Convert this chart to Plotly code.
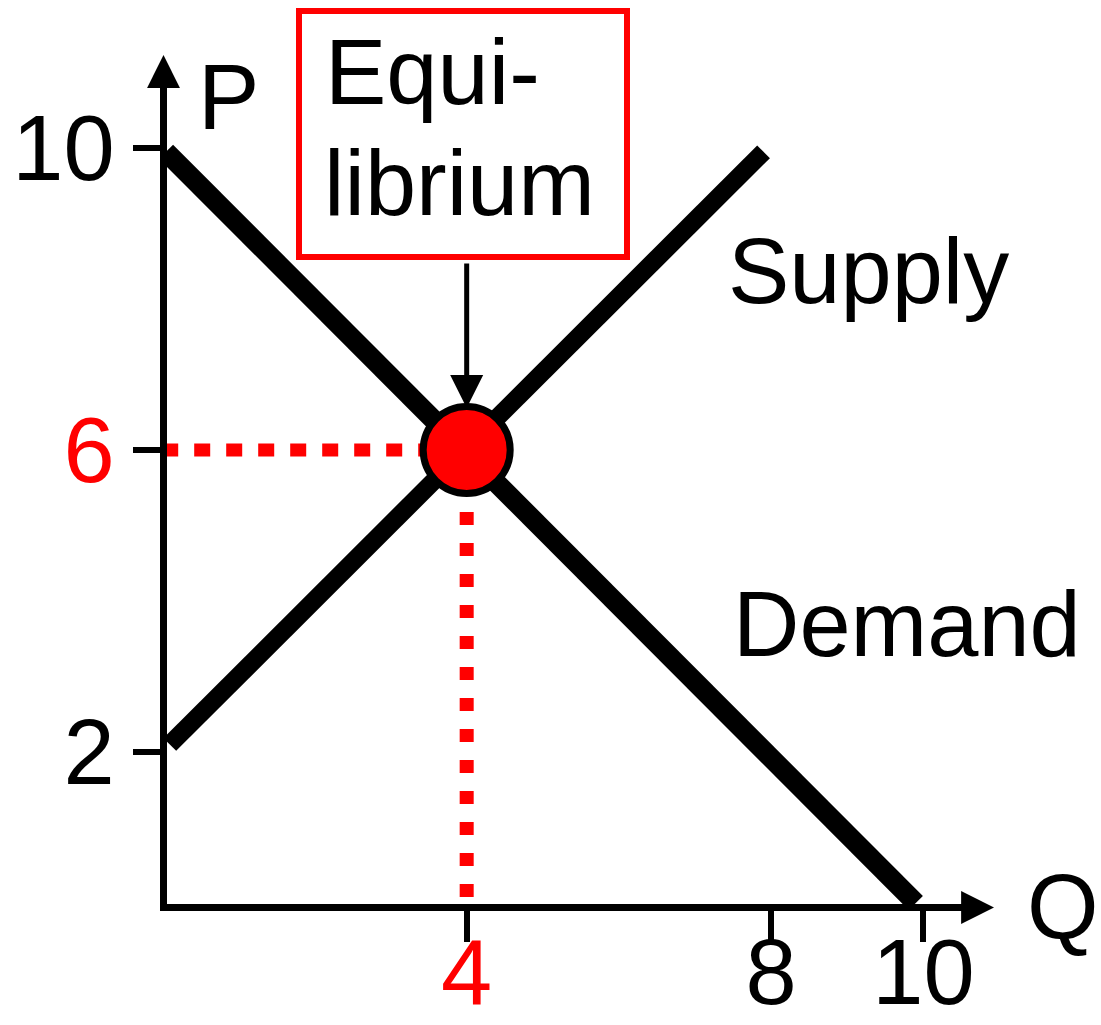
import plotly.graph_objects as go

# ---- data ----
demand_q = [0.05, 9.9]
demand_p = [9.95, 0.0]
supply_q = [0.1, 7.9]
supply_p = [2.1, 9.95]
eq_q = 4
eq_p = 6
x_tickvals = [4, 8, 10]
x_ticktext = ["<span style='color:#ff0000'>4</span>", "8", "10"]
y_tickvals = [2, 6, 10]
y_ticktext = ["2", "<span style='color:#ff0000'>6</span>", "10"]

W, H = 1101, 1025
FONT = "Liberation Sans, Arial, sans-serif"
FS = 92

# pixel -> data helpers (layout positioning only)
X0, XS = 162.2, 76.12
Y0, YS = 903.0, 75.5
def qx(px):
    return (px - X0) / XS
def pp(py):
    return (Y0 - py) / YS

plot_l, plot_r, plot_t, plot_b = 167, 960, 88, 904
# pixel -> paper helpers
def px_(px):
    return (px - plot_l) / (plot_r - plot_l)
def py_(py):
    return (plot_b - py) / (plot_b - plot_t)

fig = go.Figure()

# dotted guide lines
fig.add_trace(go.Scatter(x=[0, eq_q], y=[eq_p, eq_p], mode="lines",
                         line=dict(color="#ff0000", width=13, dash="16px,16px"),
                         hoverinfo="skip", showlegend=False))
fig.add_trace(go.Scatter(x=[eq_q, eq_q], y=[eq_p, 0], mode="lines",
                         line=dict(color="#ff0000", width=14, dash="13px,18px"),
                         hoverinfo="skip", showlegend=False))
# supply & demand
fig.add_trace(go.Scatter(x=supply_q, y=supply_p, mode="lines",
                         line=dict(color="black", width=18), name="Supply", showlegend=False))
fig.add_trace(go.Scatter(x=demand_q, y=demand_p, mode="lines",
                         line=dict(color="black", width=20), name="Demand", showlegend=False))
# equilibrium point
fig.add_trace(go.Scatter(x=[eq_q], y=[eq_p], mode="markers",
                         marker=dict(size=87, color="#ff0000", line=dict(color="black", width=7)),
                         name="Equilibrium", showlegend=False))

axis_common = dict(showline=True, linewidth=7, linecolor="black", ticks="outside",
                   tickwidth=6, tickcolor="black", showgrid=False, zeroline=False,
                   automargin=False,
                   tickfont=dict(family=FONT, size=FS, color="black"), fixedrange=True)

fig.update_xaxes(range=[qx(plot_l), qx(plot_r)], tickvals=x_tickvals, ticktext=x_ticktext,
                 ticklen=31, ticklabelstandoff=-48, **axis_common)
fig.update_yaxes(range=[pp(plot_b), pp(plot_t)], tickvals=y_tickvals, ticktext=y_ticktext,
                 ticklen=27, **axis_common)

ann = []
# axis arrows (paper coords, pixel offsets)
ann.append(dict(x=px_(994), y=py_(907.5), ax=-40, ay=0, xref="paper", yref="paper",
                text="", showarrow=True, arrowhead=2,
                arrowwidth=7, arrowsize=0.94, arrowcolor="black"))
ann.append(dict(x=px_(163.5), y=py_(55), ax=0, ay=45, xref="paper", yref="paper",
                text="", showarrow=True, arrowhead=2,
                arrowwidth=7, arrowsize=0.94, arrowcolor="black"))
# arrow from box to equilibrium
ann.append(dict(x=eq_q, y=eq_p, ax=0, ay=-188, xref="x", yref="y",
                text="", showarrow=True, arrowhead=2,
                arrowwidth=5, arrowsize=1.32, arrowcolor="black", standoff=42))

def label(text, px, py, xanchor="left", color="black"):
    ann.append(dict(x=px_(px), y=py_(py), xref="paper", yref="paper", text=text, showarrow=False,
                    xanchor=xanchor, yanchor="middle", borderpad=0, borderwidth=0,
                    font=dict(family=FONT, size=FS, color=color)))

label("P", 198, 97)
label("Q", 1027, 906)
label("Supply", 728, 271)
label("Demand", 733, 624)
label("Equi-", 325, 72)
label("librium", 324, 183)

fig.update_layout(
    width=W, height=H,
    margin=dict(l=plot_l, r=W - plot_r, t=plot_t, b=H - plot_b, pad=0, autoexpand=False),
    paper_bgcolor="white", plot_bgcolor="white",
    annotations=ann,
    shapes=[dict(type="rect", xref="paper", yref="paper", x0=px_(299), x1=px_(627),
                 y0=py_(11), y1=py_(257),
                 line=dict(color="#ff0000", width=6), fillcolor="white", layer="below")],
    showlegend=False,
)

fig.write_html("out.html", post_script="document.body.style.margin='0';",
               config={"displayModeBar": False})
